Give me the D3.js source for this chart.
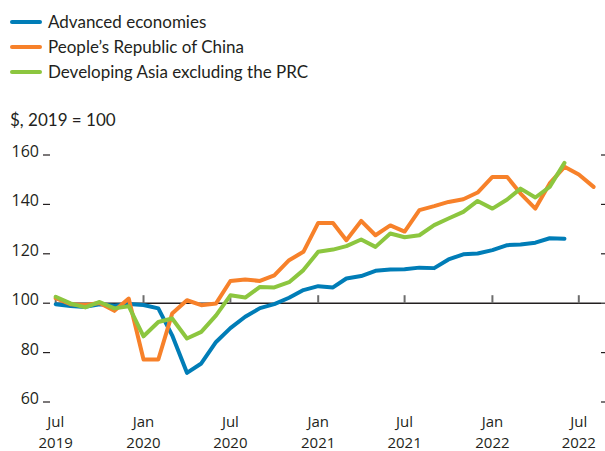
<!DOCTYPE html>
<html>
<head>
<meta charset="utf-8">
<script src="https://cdn.jsdelivr.net/npm/d3@7"></script>
<style>
  body { margin: 0; background: #fff; }
  text { font-family: Lato, "Open Sans", sans-serif; fill: #231f20; }
  text.axis { font-family: "Open Sans", "Noto Sans", sans-serif; }
</style>
</head>
<body>
<svg id="chart" width="605" height="451"></svg>
<script>
// monthly index, July 2019 = first point
const startMonth = new Date(2019, 6, 1);

const advanced = [99.6, 98.9, 98.5, 99.6, 99.0, 99.7, 99.3, 97.9, 87.0, 71.8,
  75.6, 84.3, 89.9, 94.5, 98.0, 99.6, 102.2, 105.3, 106.9, 106.4,
  110.0, 111.0, 113.1, 113.6, 113.7, 114.4, 114.2, 117.7, 119.8, 120.1,
  121.5, 123.5, 123.8, 124.5, 126.3, 126.1];

const china = [102.0, 99.6, 99.3, 100.1, 96.9, 101.9, 77.2, 77.2, 95.8, 101.2,
  99.2, 99.9, 109.0, 109.6, 109.0, 111.3, 117.4, 120.8, 132.5, 132.5,
  125.5, 133.3, 127.5, 131.5, 129.0, 137.7, 139.3, 141.0, 142.1, 144.8,
  151.1, 151.1, 144.4, 138.3, 148.5, 155.2, 152.1, 147.1];

const devAsia = [102.6, 99.9, 98.3, 100.5, 97.9, 98.8, 86.6, 92.4, 93.8, 85.7,
  88.4, 95.1, 103.2, 102.3, 106.6, 106.4, 108.5, 113.4, 120.8, 121.7,
  123.1, 125.8, 122.8, 128.2, 126.7, 127.5, 131.6, 134.3, 137.0, 141.4,
  138.3, 142.0, 146.4, 142.8, 147.1, 156.8];

const seriesNames = ["Advanced economies", "People\u2019s Republic of China", "Developing Asia excluding the PRC"];
const seriesColors = ["#007db7", "#f7812a", "#8cc63f"];
const yTicks = [60, 80, 100, 120, 140, 160];
const xTickMonths = [0, 6, 12, 18, 24, 30, 36];

const svg = d3.select("#chart");

const monthDate = i => d3.timeMonth.offset(startMonth, i);

const x = d3.scaleTime()
  .domain([monthDate(0), monthDate(36)])
  .range([55.7, 578.8]);

const y = d3.scaleLinear()
  .domain([60, 160])
  .range([402, 155]);

// legend
const legend = svg.append("g");
seriesNames.forEach((name, i) => {
  legend.append("line")
    .attr("x1", 12).attr("x2", 40)
    .attr("y1", 22 + i * 25).attr("y2", 22 + i * 25)
    .attr("stroke", seriesColors[i])
    .attr("stroke-width", 4)
    .attr("stroke-linecap", "round");
  legend.append("text")
    .attr("x", 48)
    .attr("y", 28 + i * 25)
    .attr("font-size", "17px")
    .text(name);
});

svg.append("text")
  .attr("x", 10)
  .attr("y", 126)
  .attr("font-size", "17px")
  .text("$, 2019 = 100");

// y axis labels + little dashes left and right
const yAxis = svg.append("g");
yTicks.forEach(v => {
  yAxis.append("text")
    .attr("class", "axis")
    .attr("x", 39)
    .attr("y", y(v) + 2)
    .attr("text-anchor", "end")
    .attr("font-size", "16px")
    .text(v);
  yAxis.append("line")
    .attr("x1", 43).attr("x2", 50)
    .attr("y1", y(v)).attr("y2", y(v))
    .attr("stroke", "#231f20").attr("stroke-width", 1.2);
  yAxis.append("line")
    .attr("x1", 601).attr("x2", 606)
    .attr("y1", y(v)).attr("y2", y(v))
    .attr("stroke", "#231f20").attr("stroke-width", 1.2);
});

// baseline at 100
svg.append("line")
  .attr("x1", x(monthDate(0))).attr("x2", 601)
  .attr("y1", y(100)).attr("y2", y(100))
  .attr("stroke", "#231f20").attr("stroke-width", 1.5);

// x ticks on the baseline
const fmtMon = d3.timeFormat("%b"), fmtYear = d3.timeFormat("%Y");
xTickMonths.forEach(m => {
  const d = monthDate(m);
  svg.append("line")
    .attr("x1", x(d)).attr("x2", x(d))
    .attr("y1", y(100)).attr("y2", y(100) - 8)
    .attr("stroke", "#6d6d6d").attr("stroke-width", 2);
  svg.append("text")
    .attr("class", "axis")
    .attr("x", x(d)).attr("y", 427)
    .attr("text-anchor", "middle")
    .attr("font-size", "15px")
    .text(fmtMon(d));
  svg.append("text")
    .attr("class", "axis")
    .attr("x", x(d)).attr("y", 448)
    .attr("text-anchor", "middle")
    .attr("font-size", "15px")
    .text(fmtYear(d));
});

// lines
const line = d3.line()
  .x((d, i) => x(monthDate(i)))
  .y(d => y(d));

[advanced, china, devAsia].forEach((s, i) => {
  svg.append("path")
    .datum(s)
    .attr("fill", "none")
    .attr("stroke", seriesColors[i])
    .attr("stroke-width", 4)
    .attr("stroke-linejoin", "round")
    .attr("stroke-linecap", "round")
    .attr("d", line);
});
</script>
</body>
</html>
